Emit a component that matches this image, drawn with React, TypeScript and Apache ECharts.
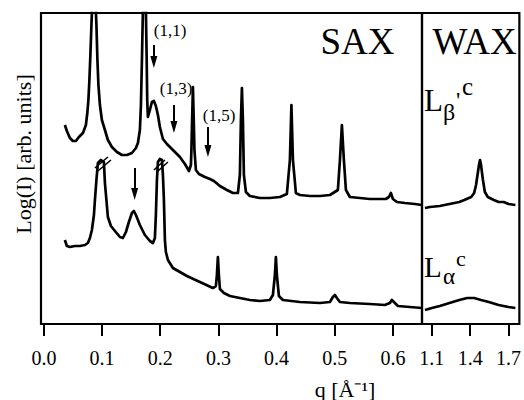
import React, { useEffect, useRef } from "react";
import * as echarts from "echarts";

const FONT = '"Liberation Serif", "Times New Roman", Times, serif';

// tick values
const saxTicks = [0, 0.1, 0.2, 0.3, 0.4, 0.5, 0.6];
const waxTicks = [1.1, 1.4, 1.7];

// Upper curve (L beta' c), SAX region: [q, log I (arb.)]
const saxUpper: [number, number][] = [
  [0.0361, 199], [0.0395, 193], [0.0447, 186], [0.0499, 183], [0.055, 183], [0.0602, 187],
  [0.0671, 191], [0.0722, 199], [0.0748, 212], [0.0765, 224], [0.0782, 244], [0.0799, 269],
  [0.0817, 299], [0.0834, 324], [0.0859, 474], [0.0885, 324], [0.0903, 299], [0.092, 264],
  [0.0937, 239], [0.0963, 219], [0.0997, 204], [0.1049, 194], [0.11, 184], [0.1169, 177],
  [0.1255, 172], [0.1341, 169], [0.1427, 169], [0.1513, 171], [0.1582, 176], [0.1616, 181],
  [0.165, 194], [0.1668, 219], [0.1685, 264], [0.1702, 314], [0.1745, 474], [0.1753, 314],
  [0.1767, 264], [0.1776, 224], [0.1788, 207], [0.1822, 214], [0.1857, 222], [0.1891, 223],
  [0.1925, 218], [0.196, 209], [0.1994, 197], [0.2046, 185], [0.2115, 180], [0.2218, 174],
  [0.2338, 167], [0.2424, 160], [0.2493, 153], [0.2527, 159], [0.2536, 174], [0.255, 209],
  [0.2562, 237], [0.2574, 209], [0.2588, 174], [0.2613, 154], [0.2665, 150], [0.2768, 147],
  [0.2854, 145], [0.2922, 143], [0.3026, 138], [0.3146, 134], [0.3249, 131], [0.3335, 131],
  [0.3369, 149], [0.3387, 204], [0.3404, 236], [0.3421, 204], [0.3438, 149], [0.3473, 132],
  [0.3541, 128], [0.3713, 126], [0.3885, 126], [0.4057, 127], [0.4177, 130], [0.4229, 164],
  [0.4255, 219], [0.4281, 164], [0.4332, 131], [0.4401, 129], [0.4573, 128], [0.4745, 128],
  [0.4917, 129], [0.5054, 134], [0.5089, 164], [0.5123, 199], [0.5157, 164], [0.5192, 134],
  [0.526, 127], [0.5432, 126], [0.5604, 125], [0.5776, 125], [0.5879, 125], [0.5931, 127],
  [0.5965, 131], [0.6, 125], [0.6069, 122], [0.6206, 121], [0.6378, 120], [0.6498, 119],
];

// Lower curve (L alpha c), SAX region
const saxLower: [number, number][] = [
  [0.036, 84], [0.0395, 78], [0.0447, 77], [0.0533, 78], [0.0619, 78], [0.0705, 79],
  [0.0756, 81], [0.0791, 86], [0.0825, 94], [0.086, 109], [0.0877, 124], [0.0903, 144],
  [0.0928, 161], [0.098, 164], [0.1031, 162], [0.1049, 141], [0.11, 107], [0.1152, 98],
  [0.1221, 93], [0.1307, 87], [0.1358, 86], [0.141, 92], [0.1461, 102], [0.1513, 111],
  [0.1547, 113], [0.1582, 109], [0.165, 99], [0.1736, 89], [0.1822, 83], [0.1874, 81],
  [0.1908, 86], [0.1925, 109], [0.1943, 144], [0.196, 162], [0.1994, 165], [0.2029, 164],
  [0.2046, 149], [0.2063, 124], [0.208, 84], [0.2097, 72], [0.2132, 64], [0.2218, 56],
  [0.2338, 52], [0.2458, 48], [0.2682, 42], [0.2905, 36], [0.2957, 38], [0.2974, 49],
  [0.2991, 67], [0.3008, 49], [0.3026, 35], [0.3094, 31], [0.3198, 28], [0.3369, 26],
  [0.3541, 24], [0.3713, 23], [0.3885, 24], [0.3937, 29], [0.3971, 49], [0.3988, 67],
  [0.4005, 49], [0.404, 28], [0.4109, 24], [0.4401, 22], [0.4745, 21], [0.4917, 22],
  [0.4968, 27], [0.5003, 29], [0.5037, 26], [0.5089, 22], [0.526, 21], [0.5604, 20],
  [0.5862, 19], [0.5948, 21], [0.5982, 24], [0.6017, 22], [0.6086, 18], [0.6292, 17],
  [0.6498, 16],
];

// WAX region curves
const waxUpper: [number, number][] = [
  [1.046, 116], [1.085, 117], [1.162, 118], [1.238, 120], [1.277, 121], [1.315, 122],
  [1.354, 124], [1.408, 127], [1.431, 131], [1.446, 139], [1.454, 146], [1.469, 159],
  [1.477, 164], [1.485, 159], [1.5, 144], [1.515, 132], [1.538, 127], [1.585, 124],
  [1.623, 122], [1.662, 122], [1.7, 120], [1.754, 119],
];
const waxLower: [number, number][] = [
  [1.046, 14], [1.1, 16], [1.162, 18], [1.238, 21], [1.315, 24], [1.377, 26],
  [1.431, 26], [1.485, 24], [1.546, 22], [1.623, 19], [1.7, 17], [1.754, 16],
];

// reflection arrows [q, from, to]
const upperArrows: [number, number, number][] = [
  [0.189, 279, 262],
  [0.2235, 219, 197],
  [0.282, 197, 173],
];
const lowerArrows: [number, number, number][] = [[0.156, 156, 130]];

// axis-break slashes on lower peaks [[q1, v1], [q2, v2]]
const breakMarks: [[number, number], [number, number]][] = [
  [[0.0877, 156], [0.11, 167]],
  [[0.0928, 153], [0.1152, 164]],
  [[0.1891, 154], [0.208, 164]],
  [[0.1943, 152], [0.2132, 162]],
];

const txt = (
  text: string,
  x: number,
  y: number,
  size: number,
  align = "left",
  rotation = 0
) => ({
  type: "text",
  x,
  y,
  rotation,
  silent: true,
  style: {
    text,
    fill: "#000",
    fontSize: size,
    fontFamily: FONT,
    align,
    verticalAlign: "middle",
  },
});

export default function App() {
  const ref = useRef<HTMLDivElement>(null);
  useEffect(() => {
    document.body.style.margin = "0";
    const chart = echarts.init(ref.current!, null, { renderer: "svg" });
    const lineStyle = { color: "#000", width: 2.7, join: "round" };
    const axisCommon = {
      type: "value",
      axisLine: { show: false },
      splitLine: { show: false },
    };
    const mkArrows = (arr: [number, number, number][]) => ({
      silent: true,
      symbol: ["none", "triangle"],
      symbolSize: [7, 12],
      lineStyle: { color: "#000", width: 2, type: "solid" },
      label: { show: false },
      emphasis: { disabled: true },
      data: arr.map(([q, a, b]) => [{ coord: [q, a] }, { coord: [q, b] }]),
    });
    chart.setOption({
      animation: false,
      grid: [
        { left: 41, top: 13, width: 381, height: 311, show: true, borderColor: "#000", borderWidth: 2.2 },
        { left: 422, top: 13, width: 99, height: 311, show: true, borderColor: "#000", borderWidth: 2.2 },
      ],
      xAxis: [
        {
          ...axisCommon,
          gridIndex: 0,
          min: -0.005,
          max: 0.65,
          axisTick: { show: true, length: 12, lineStyle: { color: "#000", width: 2 }, customValues: saxTicks },
          axisLabel: {
            customValues: saxTicks,
            formatter: (v: number) => v.toFixed(1),
            color: "#000",
            fontFamily: FONT,
            fontSize: 20,
            margin: 24,
          },
        },
        {
          ...axisCommon,
          gridIndex: 1,
          min: 1.023,
          max: 1.785,
          axisTick: { show: true, length: 12, lineStyle: { color: "#000", width: 2 }, customValues: waxTicks },
          axisLabel: {
            customValues: waxTicks,
            formatter: (v: number) => v.toFixed(1),
            color: "#000",
            fontFamily: FONT,
            fontSize: 20,
            margin: 24,
          },
        },
      ],
      yAxis: [
        { type: "value", gridIndex: 0, min: 0, max: 311, show: false },
        { type: "value", gridIndex: 1, min: 0, max: 311, show: false },
      ],
      series: [
        {
          type: "line", xAxisIndex: 0, yAxisIndex: 0, data: saxUpper, symbol: "none",
          lineStyle, clip: true, markLine: mkArrows(upperArrows),
        },
        {
          type: "line", xAxisIndex: 0, yAxisIndex: 0, data: saxLower, symbol: "none",
          lineStyle, clip: true,
          markLine: mkArrows(lowerArrows),
        },
        {
          type: "line", xAxisIndex: 0, yAxisIndex: 0, data: [], symbol: "none",
          markLine: {
            silent: true,
            symbol: ["none", "none"],
            lineStyle: { color: "#000", width: 1.6, type: "solid" },
            label: { show: false },
            emphasis: { disabled: true },
            data: breakMarks.map(([a, b]) => [{ coord: a }, { coord: b }]),
          },
        },
        { type: "line", xAxisIndex: 1, yAxisIndex: 1, data: waxUpper, symbol: "none", lineStyle, clip: true },
        { type: "line", xAxisIndex: 1, yAxisIndex: 1, data: waxLower, symbol: "none", lineStyle, clip: true },
      ],
      graphic: [
        txt("SAX", 357.5, 41.5, 37, "center"),
        txt("WAX", 474.5, 41.5, 37, "center"),
        txt("(1,1)", 170, 30, 17, "center"),
        txt("(1,3)", 176, 88, 17, "center"),
        txt("(1,5)", 219, 115, 17, "center"),
        txt("L", 424, 100.5, 31),
        txt("β", 443, 112, 24),
        txt("'", 456, 100, 24),
        txt("c", 462, 86, 25),
        txt("L", 424, 266.5, 29),
        txt("α", 443, 276, 23),
        txt("c", 456, 258, 22),
        txt("Log(I) [arb. units]", 23, 154, 22, "center", Math.PI / 2),
        txt("q [Å⁻¹]", 345, 389, 22, "center"),
      ],
    });
    return () => chart.dispose();
  }, []);
  return <div ref={ref} style={{ width: 524, height: 400 }} />;
}
